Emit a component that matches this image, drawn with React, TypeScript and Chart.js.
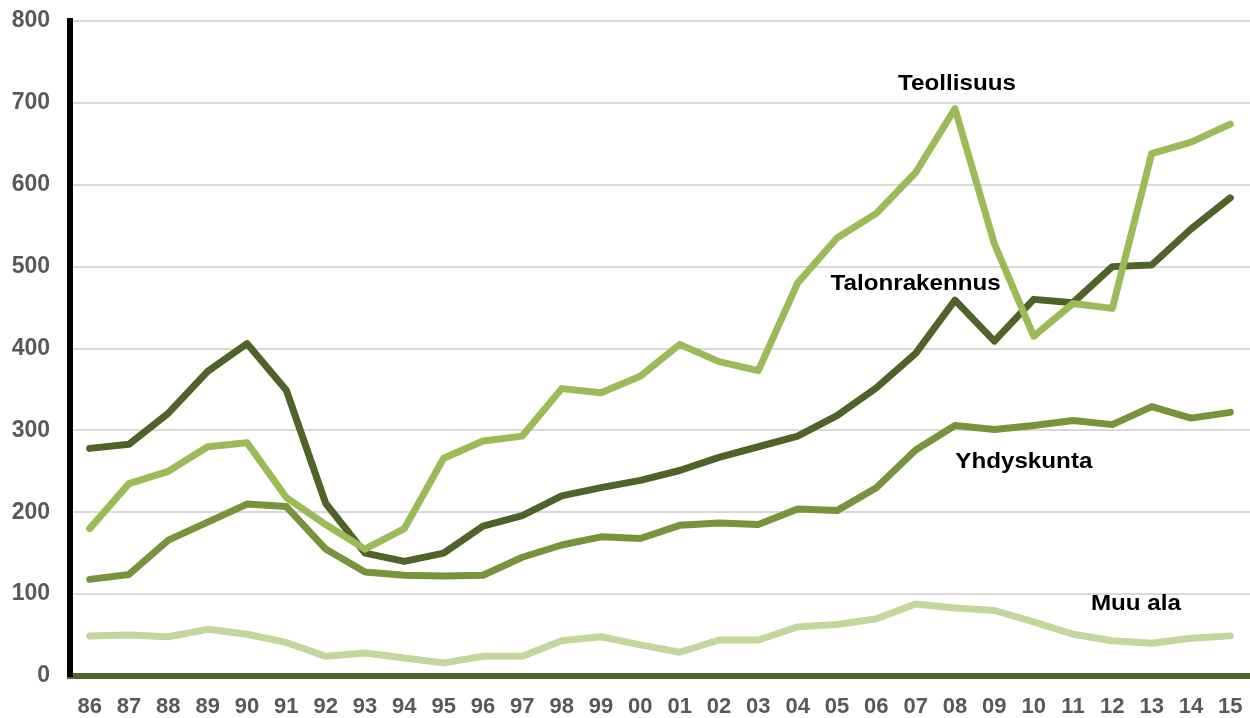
import React, { useEffect, useRef } from "react";
import { Chart, registerables } from "chart.js";

Chart.register(...registerables);

const years = ["86","87","88","89","90","91","92","93","94","95","96","97","98","99","00","01","02","03","04","05","06","07","08","09","10","11","12","13","14","15"];

const teollisuus = [180,235,250,280,285,218,185,155,180,266,287,293,351,346,366,405,384,373,480,535,565,615,693,528,415,455,449,638,652,674];
const talonrakennus = [278,283,321,372,406,349,211,150,140,150,183,196,220,230,239,251,267,280,293,318,352,394,459,409,460,456,500,502,546,584];
const yhdyskunta = [118,124,166,188,210,207,155,127,123,122,123,145,160,170,168,184,187,185,204,202,230,276,306,301,306,312,307,329,315,322];
const muuAla = [49,50,48,57,51,41,24,28,22,16,24,24,43,48,38,29,44,44,60,63,70,88,83,80,66,51,43,40,46,49];

const yTicks = [0,100,200,300,400,500,600,700,800];

// series labels: [text, category index, value]
const seriesLabels: [string, number, number][] = [
  ["Teollisuus", 22.05, 723],
  ["Talonrakennus", 21.0, 479],
  ["Yhdyskunta", 23.75, 262],
  ["Muu ala", 26.6, 88],
];

const FONT = "'Liberation Sans', Arial, sans-serif";

const labelPlugin = {
  id: "seriesLabels",
  afterDatasetsDraw(chart: any) {
    const { ctx, scales } = chart;
    const sx = 1.1;
    for (const [t, i, v] of seriesLabels) {
      ctx.save();
      ctx.font = `bold 22px ${FONT}`;
      ctx.fillStyle = "#000000";
      ctx.textAlign = "center";
      ctx.textBaseline = "middle";
      const x = scales.x.getPixelForValue(i);
      const y = scales.y.getPixelForValue(v);
      ctx.translate(x, y);
      ctx.scale(sx, 1);
      ctx.fillText(t, 0, 0);
      ctx.restore();
    }
  },
};

export default function App() {
  const ref = useRef<HTMLCanvasElement>(null);
  useEffect(() => {
    document.body.style.margin = "0";
    const mk = (label: string, data: number[], color: string) => ({
      label,
      data,
      borderColor: color,
      backgroundColor: color,
      borderWidth: 7,
      pointRadius: 0,
      tension: 0,
      borderCapStyle: "round" as const,
      borderJoinStyle: "round" as const,
    });
    const chart = new Chart(ref.current!, {
      type: "line",
      data: {
        labels: years,
        datasets: [
          mk("Teollisuus", teollisuus, "#9BBB59"),
          mk("Talonrakennus", talonrakennus, "#4F6228"),
          mk("Yhdyskunta", yhdyskunta, "#77933C"),
          mk("Muu ala", muuAla, "#C3D69B"),
        ],
      },
      options: {
        animation: false,
        responsive: true,
        maintainAspectRatio: false,
        layout: { padding: { left: 0, right: 0, top: 21, bottom: 0 } },
        plugins: { legend: { display: false }, tooltip: { enabled: false } },
        scales: {
          x: {
            offset: true,
            afterFit: (s: any) => {
              s.height = 42;
              s.paddingLeft = 0;
              s.paddingRight = 0;
            },
            grid: { display: false, drawTicks: false },
            border: { display: true, color: "#4F6228", width: 6 },
            ticks: {
              color: "#595959",
              font: { family: FONT, weight: "bold", size: 22 },
              padding: 18,
              maxRotation: 0,
              autoSkip: false,
            },
          },
          y: {
            min: 0,
            max: 800,
            afterFit: (s: any) => {
              s.width = 70;
              s.paddingTop = 0;
              s.paddingBottom = 0;
            },
            afterBuildTicks: (s: any) => {
              s.ticks = yTicks.map((v) => ({ value: v }));
            },
            grid: { color: "#D9D9D9", lineWidth: 2, drawTicks: false },
            border: { display: true, color: "#000000", width: 6 },
            ticks: {
              color: "#595959",
              font: { family: FONT, weight: "bold", size: 23 },
              padding: 20,
            },
          },
        },
      },
      plugins: [labelPlugin],
    });
    return () => chart.destroy();
  }, []);
  return (
    <div style={{ position: "fixed", left: 0, top: 0, width: 1250, height: 718 }}>
      <canvas ref={ref} />
    </div>
  );
}
